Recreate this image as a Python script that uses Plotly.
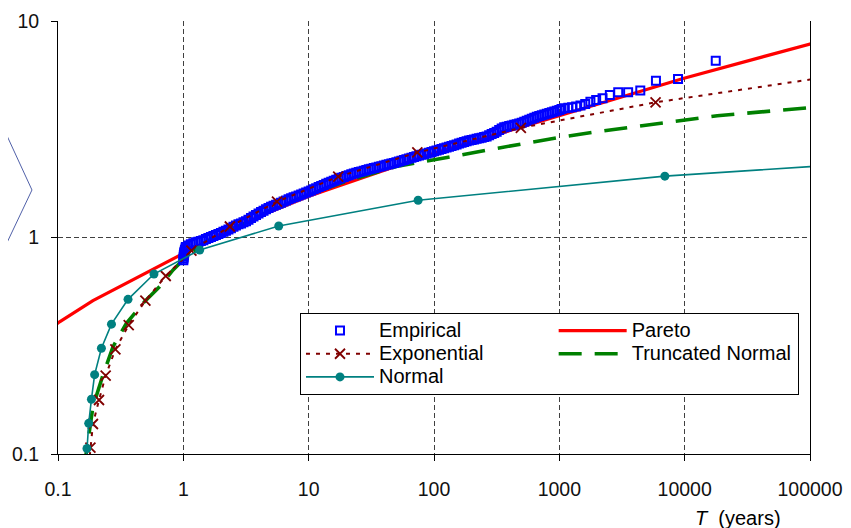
import plotly.graph_objects as go

# ---------------- data ----------------
emp_T = [1.000, 1.003, 1.006, 1.010, 1.015, 1.020, 1.030, 1.040,
         1.047, 1.096, 1.148, 1.202, 1.259, 1.318, 1.380, 1.445, 1.514, 1.585,
         1.660, 1.738, 1.820, 1.905, 1.995, 2.089, 2.188, 2.291, 2.399, 2.512,
         2.630, 2.754, 2.884, 3.020, 3.162, 3.311, 3.467, 3.631, 3.802, 3.981,
         4.169, 4.365, 4.571, 4.786, 5.012, 5.248, 5.495, 5.754, 6.026, 6.310,
         6.607, 6.918, 7.244, 7.586, 7.943, 8.318, 8.710, 9.120, 9.550, 10.00,
         10.47, 10.96, 11.48, 12.02, 12.59, 13.18, 13.80, 14.45, 15.14, 15.85,
         16.60, 17.38, 18.20, 19.05, 19.95, 20.89, 21.88, 22.91, 23.99, 25.12,
         26.30, 27.54, 28.84, 30.20, 31.62, 33.11, 34.67, 36.31, 38.02, 39.81,
         41.69, 43.65, 45.71, 47.86, 50.12, 52.48, 54.95, 57.54, 60.26, 63.10,
         66.07, 69.18, 72.44, 75.86, 79.43, 83.18, 87.10, 91.20, 95.50, 100.0,
         104.7, 109.6, 114.8, 120.2, 125.9, 131.8, 138.0, 144.5, 151.4, 158.5,
         166.0, 173.8, 182.0, 190.5, 199.5, 208.9, 218.8, 229.1, 239.9, 251.2,
         263.0, 275.4, 288.4, 302.0, 316.2, 331.1, 346.7, 363.1, 380.2, 398.1,
         416.9, 436.5, 457.1, 478.6, 501.2, 524.8, 549.5, 575.4, 602.6, 631.0,
         660.7, 691.8, 724.4, 758.6, 794.3, 831.8, 871.0, 912.0, 955.0, 1000.0,
         1041, 1106, 1180, 1264, 1362, 1475, 1609, 1770, 1967, 2212, 2529, 2950,
         3540, 4425, 5900, 8850, 17700]
emp_y = [0.785, 0.800, 0.815, 0.830, 0.845, 0.860, 0.875, 0.890,
         0.905, 0.918, 0.930, 0.940, 0.950, 0.957, 0.964, 0.972, 0.983, 0.995,
         1.006, 1.017, 1.028, 1.039, 1.050, 1.062, 1.074, 1.088, 1.104, 1.121,
         1.137, 1.150, 1.162, 1.175, 1.190, 1.209, 1.229, 1.250, 1.270, 1.290,
         1.310, 1.330, 1.350, 1.370, 1.388, 1.403, 1.418, 1.432, 1.449, 1.466,
         1.484, 1.501, 1.518, 1.533, 1.548, 1.563, 1.578, 1.595, 1.612, 1.630,
         1.650, 1.669, 1.689, 1.709, 1.730, 1.750, 1.769, 1.789, 1.809, 1.830,
         1.850, 1.868, 1.886, 1.904, 1.922, 1.941, 1.960, 1.975, 1.990, 2.005,
         2.020, 2.035, 2.050, 2.064, 2.078, 2.092, 2.106, 2.120, 2.135, 2.150,
         2.165, 2.180, 2.195, 2.210, 2.226, 2.244, 2.262, 2.280, 2.298, 2.316,
         2.334, 2.352, 2.370, 2.389, 2.408, 2.427, 2.446, 2.465, 2.485, 2.505,
         2.525, 2.545, 2.565, 2.585, 2.605, 2.626, 2.648, 2.670, 2.692, 2.714,
         2.736, 2.758, 2.780, 2.802, 2.820, 2.838, 2.856, 2.874, 2.892, 2.911,
         2.930, 2.966, 3.003, 3.041, 3.080, 3.134, 3.190, 3.230, 3.250, 3.271,
         3.293, 3.314, 3.336, 3.358, 3.388, 3.424, 3.460, 3.497, 3.535, 3.572,
         3.610, 3.639, 3.668, 3.698, 3.728, 3.760, 3.790, 3.820, 3.850, 3.878,
         3.92, 3.95, 3.98, 4.00, 4.03, 4.07, 4.14, 4.24, 4.32, 4.40, 4.55, 4.69,
         4.69, 4.77, 5.30, 5.40, 6.56]

pareto_T = [0.09, 0.103, 0.190, 0.3515, 0.648, 0.881, 1.0, 2.0, 3.0, 5.0, 10.0,
            20.0, 50.0, 100.0, 200.0, 500.0, 1288, 3000, 9720, 100000, 120000]
pareto_y = [0.385, 0.408, 0.511, 0.614, 0.739, 0.810, 0.847, 1.04, 1.16, 1.32, 1.55,
            1.78, 2.13, 2.45, 2.76, 3.24, 3.81, 4.41, 5.43, 7.83, 8.05]

tnorm_T = [0.164, 0.1665, 0.190, 0.2286, 0.2748, 0.3515, 0.477, 0.648, 0.828, 1.0,
           1.5, 2.0, 3.0, 5.0, 10.0, 20.0, 50.0, 100.0, 127.0, 270.0, 530.0,
           1041, 2003, 3880, 9040, 18200, 100000, 120000]
tnorm_y = [0.085, 0.0972, 0.1654, 0.2317, 0.313, 0.4016, 0.497, 0.593, 0.708, 0.79,
           0.95, 1.04, 1.15, 1.34, 1.58, 1.82, 2.13, 2.28, 2.34, 2.54, 2.72,
           2.91, 3.08, 3.25, 3.47, 3.65, 3.98, 4.02]

expo_T = [0.176, 0.1814, 0.190, 0.2124, 0.240, 0.287, 0.3666, 0.498, 0.724, 1.16,
          2.35, 5.59, 17.2, 73.6, 493, 5860, 120000]
expo_y = [0.088, 0.107, 0.1376, 0.1776, 0.230, 0.3045, 0.394, 0.511, 0.664, 0.869,
          1.124, 1.463, 1.909, 2.47, 3.21, 4.21, 5.45]

norm_T = [0.1665, 0.1703, 0.1758, 0.1848, 0.196, 0.222, 0.267, 0.362, 0.583, 1.35,
          5.77, 74.7, 6950, 120000]
norm_y = [0.086, 0.106, 0.1386, 0.179, 0.2325, 0.308, 0.398, 0.518, 0.678, 0.876,
          1.13, 1.486, 1.92, 2.14]

x_tickvals = [0.1, 1, 10, 100, 1000, 10000, 100000]
x_ticktext = ["0.1", "1", "10", "100", "1000", "10000", "100000"]
y_tickvals = [0.1, 1, 10]
y_ticktext = ["0.1", "1", "10"]

FONT = "Liberation Sans, Arial, sans-serif"


def legend_name(s):
    return "<span style='font-size:20px'>" + s + "</span>"


fig = go.Figure()

fig.add_trace(go.Scatter(
    x=pareto_T, y=pareto_y, mode="lines", name=legend_name("Pareto"), legendrank=2,
    legendwidth=0.318, line=dict(color="#FF0000", width=3.2)))

fig.add_trace(go.Scatter(
    x=tnorm_T, y=tnorm_y, mode="lines", name=legend_name("Truncated Normal"),
    legendrank=4, legendwidth=0.318,
    line=dict(color="#008000", width=3.6, dash="23px,13px")))

fig.add_trace(go.Scatter(
    x=emp_T, y=emp_y, mode="markers", name=legend_name("Empirical"), legendrank=1,
    marker=dict(symbol="square-open", size=8, color="#0000FF",
                line=dict(width=2.0, color="#0000FF"))))

fig.add_trace(go.Scatter(
    x=expo_T, y=expo_y, mode="lines+markers", name=legend_name("Exponential"),
    legendrank=3, line=dict(color="#800000", width=2, dash="4px,6px"),
    marker=dict(symbol="x-thin", size=10, color="#800000",
                line=dict(width=1.8, color="#800000"))))

fig.add_trace(go.Scatter(
    x=norm_T, y=norm_y, mode="lines+markers", name=legend_name("Normal"), legendrank=5,
    line=dict(color="#008080", width=1.6),
    marker=dict(symbol="circle", size=9, color="#008080")))

axis_common = dict(
    type="log", showline=True, linecolor="black", linewidth=1,
    ticks="outside", ticklen=6, tickcolor="black", tickwidth=1,
    showgrid=True, gridcolor="#404040", gridwidth=1, griddash="5px,3px",
    zeroline=False, automargin=False,
    tickfont=dict(family=FONT, size=19.5, color="#111111"),
)

fig.update_xaxes(range=[-1, 5], tickvals=x_tickvals, ticktext=x_ticktext,
                 ticklabelstandoff=12, **axis_common)
fig.update_yaxes(range=[-1, 1], tickvals=y_tickvals, ticktext=y_ticktext,
                 mirror=True, ticklabelstandoff=8, **axis_common)

# left-side chevron fragment and faint right-edge marks (decorations outside plot)
shapes = [
    dict(type="path", xref="paper", yref="paper",
         path="M -0.0775 0.7714 L -0.0346 0.6097 L -0.0775 0.4527",
         line=dict(color="#5060A8", width=1)),
]
faint_marks_y = [12, 53, 94, 135, 176, 218, 260, 301, 343, 384, 425, 467, 508]
for py in faint_marks_y:
    yp = (454 - py) / 433
    shapes.append(dict(type="line", xref="paper", yref="paper",
                       x0=(846 - 58) / 752, x1=(851 - 58) / 752, y0=yp, y1=yp,
                       line=dict(color="#E3E7F5", width=1)))

# the page body has an 8px margin, so the figure is 8px smaller than the window
fig.update_layout(
    width=843, height=520, autosize=False,
    margin=dict(l=50, r=41, t=13, b=74, pad=0, autoexpand=False),
    paper_bgcolor="white", plot_bgcolor="white",
    font=dict(family=FONT, size=20, color="black"),
    showlegend=True,
    legend=dict(
        orientation="h", x=0.3218, y=0.3256, xanchor="left", yanchor="top",
        entrywidthmode="fraction", entrywidth=0.336, itemwidth=68,
        bgcolor="white", bordercolor="black", borderwidth=1,
        font=dict(family=FONT, size=15.5, color="black"),
        traceorder="normal",
    ),
    shapes=shapes,
    annotations=[dict(
        text="<i>T</i>  (years)", xref="paper", yref="paper",
        x=(738 - 58) / 752, y=(454 - 518) / 433, xanchor="center", yanchor="middle",
        showarrow=False, font=dict(family=FONT, size=20, color="black"))],
)

fig.write_html("out.html")
